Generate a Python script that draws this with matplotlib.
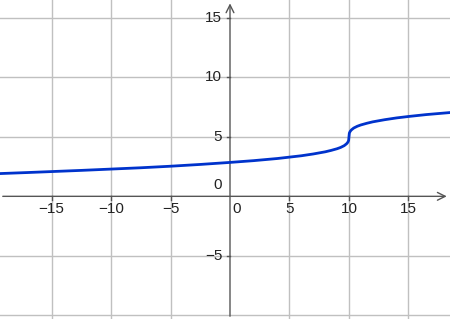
import matplotlib
matplotlib.use('Agg')
import matplotlib.pyplot as plt

# curve values
x_vals = [-19.4, -17, -15, -12.5, -10, -7.5, -5, -2.5, 0, 2, 4, 6, 7, 8, 8.5, 9,
          9.3, 9.6, 9.8, 9.9, 9.97, 10, 10.03, 10.1, 10.2, 10.4, 10.7, 11, 11.5,
          12, 13, 14, 15, 16.5, 18.6]
y_vals = [1.91, 2.0, 2.08, 2.18, 2.29, 2.40, 2.53, 2.68, 2.85, 3.0, 3.18, 3.41,
          3.56, 3.74, 3.86, 4.0, 4.11, 4.26, 4.42, 4.54, 4.69, 5.0, 5.31, 5.46,
          5.58, 5.74, 5.89, 6.0, 6.14, 6.26, 6.44, 6.59, 6.71, 6.87, 7.05]

x_ticks = [-15, -10, -5, 0, 5, 10, 15]
y_ticks = [-5, 0, 5, 10, 15]
grid_x = [-15, -10, -5, 5, 10, 15]
grid_y = [-10, -5, 5, 10, 15]

fig = plt.figure(figsize=(4.5, 3.19), dpi=100)
ax = fig.add_axes([0, 0, 1, 1])
ax.set_xlim(-19.33, 18.49)
ax.set_ylim(-10.31, 16.5)
for s in ax.spines.values():
    s.set_visible(False)
ax.set_xticks([])
ax.set_yticks([])

for g in grid_x:
    ax.axvline(g, color='#c0c0c0', lw=1, zorder=1)
for g in grid_y:
    ax.axhline(g, color='#c0c0c0', lw=1, zorder=1)

# axes with arrowheads
axis_col = '#555555'
ax.annotate('', xy=(18.45, 0), xytext=(-19.33, 0),
            arrowprops=dict(arrowstyle='->', color=axis_col, lw=1, mutation_scale=14), zorder=2)
ax.annotate('', xy=(0, 16.45), xytext=(0, -10.31),
            arrowprops=dict(arrowstyle='->', color=axis_col, lw=1, mutation_scale=14), zorder=2)

# small tick marks
for t in x_ticks:
    if t != 0:
        ax.plot([t, t], [0, -0.3], color=axis_col, lw=1, zorder=2)
for t in y_ticks:
    if t != 0:
        ax.plot([0, -0.25], [t, t], color=axis_col, lw=1, zorder=2)

font = dict(family='Liberation Sans', fontsize=11, color='#222222')
for t in x_ticks:
    xpos = t + 0.55 if t == 0 else t
    ax.text(xpos, -0.45, str(t).replace('-', '\u2212'), ha='center', va='top', **font)
for t in y_ticks:
    ax.text(-0.65, t + (0.35 if t == 0 else 0), str(t).replace('-', '\u2212'),
            ha='right', va='bottom' if t == 0 else 'center', **font)

ax.plot(x_vals, y_vals, color='#0033cc', lw=2, solid_capstyle='round', zorder=3)

fig.savefig('out.png', dpi=100)
